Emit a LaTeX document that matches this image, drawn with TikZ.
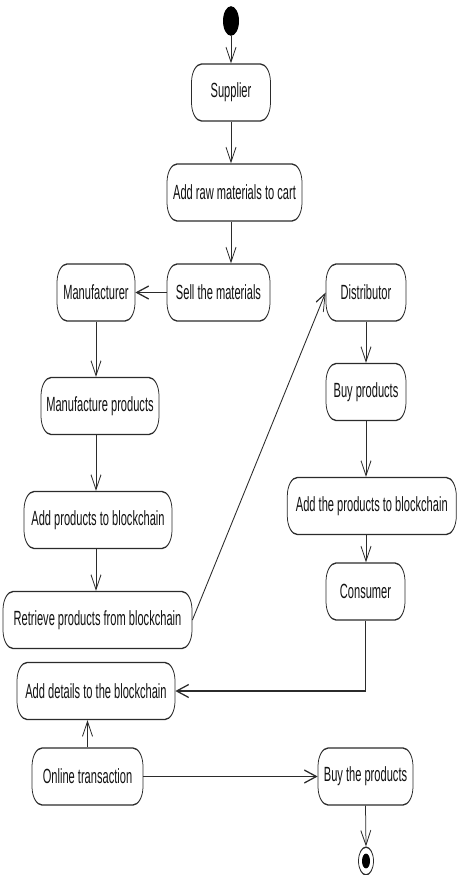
\documentclass[tikz,border=0pt]{standalone}
\usepackage{fontspec}
\setmainfont{Liberation Sans}
\usetikzlibrary{arrows.meta,calc}
\definecolor{ln}{HTML}{2B2B2B}
\definecolor{tx}{HTML}{111111}
\tikzset{
  act/.style={draw=ln, line width=0.75pt, rounded corners=10pt, minimum height=30.8pt,
    inner sep=0pt, font=\fontsize{11.1}{13}\selectfont, text=tx, align=center},
  varr/.style={draw=ln, line width=0.75pt, -{Straight Barb[length=8pt,width=10pt]}},
  harr/.style={draw=ln, line width=0.75pt, -{Straight Barb[length=12pt,width=7pt]}},
  darr/.style={draw=ln, line width=0.75pt, -{Straight Barb[length=9pt,width=9pt]}},
  initnode/.style={circle, fill=black, inner sep=0pt, minimum size=16pt},
  finalring/.style={circle, draw=ln, line width=0.75pt, fill=white, inner sep=0pt, minimum size=15pt},
  finaldot/.style={circle, fill=black, inner sep=0pt, minimum size=8pt}
}
\begin{document}
\begin{tikzpicture}
\useasboundingbox (0pt,0pt) rectangle (457pt,-875pt);
\begin{scope}[transform canvas={yscale=1.85}, x=1pt, y=-0.540541pt]
  \node[initnode] (start) at (231,21) {};
  \node[act, minimum width=79pt] (sup) at (231,92.5) {Supplier};
  \node[act, minimum width=135pt] (raw) at (234.5,192.5) {Add raw materials to cart};
  \node[act, minimum width=78pt] (manuf) at (96,292.5) {Manufacturer};
  \node[act, minimum width=103pt] (sell) at (218.5,292.5) {Sell the materials};
  \node[act, minimum width=80pt] (dist) at (366,292.5) {Distributor};
  \node[act, minimum width=118pt] (mprod) at (100,406) {Manufacture products};
  \node[act, minimum width=80pt] (buy) at (366,392) {Buy products};
  \node[act, minimum width=148pt] (addprod) at (98,520) {Add products to blockchain};
  \node[act, minimum width=189pt] (retr) at (97.5,620) {Retrieve products from blockchain};
  \node[act, minimum width=169pt] (addthe) at (371.8,506) {Add the products to blockchain};
  \node[act, minimum width=79pt] (cons) at (365.5,591.5) {Consumer};
  \node[act, minimum width=158pt] (details) at (96,691) {Add details to the blockchain};
  \node[act, minimum width=111pt] (online) at (87.5,776.5) {Online transaction};
  \node[act, minimum width=95pt] (buyp) at (365.5,776.5) {Buy the products};
  \node[finalring] (end) at (366,861) {};
  \node[finaldot] (enddot) at (end.center) {};

  \draw[varr] (start) -- (sup);
  \draw[varr] (sup.south) -- (sup.south |- raw.north);
  \draw[varr] (sup.south |- raw.south) -- (sup.south |- sell.north);
  \draw[harr] (sell.west) -- (manuf.east);
  \draw[varr] (manuf.south) -- (manuf.south |- mprod.north);
  \draw[varr] (manuf.south |- mprod.south) -- (manuf.south |- addprod.north);
  \draw[varr] (manuf.south |- addprod.south) -- (manuf.south |- retr.north);
  \draw[darr] (retr.east) -- (dist.west);
  \draw[varr] (dist.south) -- (buy.north);
  \draw[varr] (buy.south) -- (buy.south |- addthe.north);
  \draw[varr] (buy.south |- addthe.south) -- (buy.south |- cons.north);
  \draw[harr] (cons.south) |- (details.east);
  \draw[varr] (online.north) -- (online.north |- details.south);
  \draw[harr] (online.east) -- (buyp.west);
  \draw[varr] (buyp.south) -- (end.north);
\end{scope}
\end{tikzpicture}
\end{document}
